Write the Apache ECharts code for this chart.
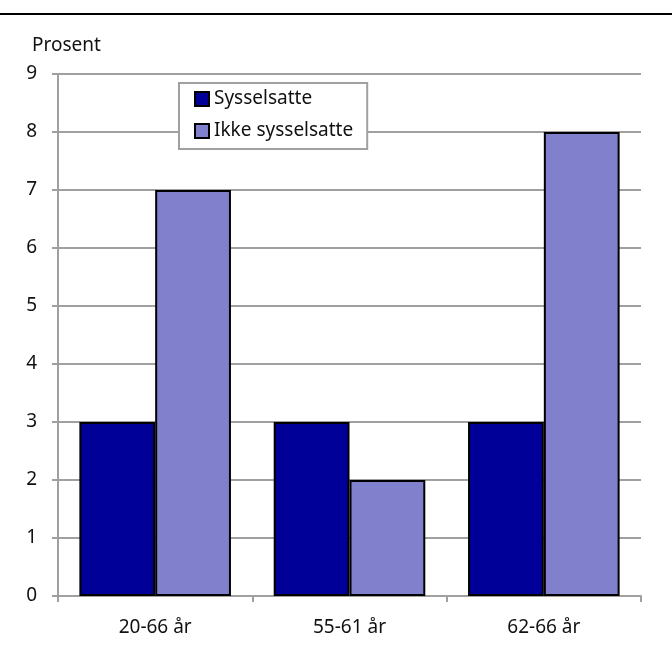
<!DOCTYPE html>
<html><head><meta charset="utf-8">
<script src="https://cdn.jsdelivr.net/npm/echarts@6/dist/echarts.min.js"></script>
<style>html,body{margin:0;padding:0;background:#fff}#c{width:672px;height:653px}</style>
</head><body><div id="c"></div>
<script>
const categories = ['20-66 år', '55-61 år', '62-66 år'];
const sysselsatte = [3, 3, 3];
const ikkeSysselsatte = [7, 2, 8];
const seriesNames = ['Sysselsatte', 'Ikke sysselsatte'];
const yTicks = [0, 1, 2, 3, 4, 5, 6, 7, 8, 9];

const font = 'Noto Sans';
const fs = 19;
const chart = echarts.init(document.getElementById('c'));
chart.setOption({
  animation: false,
  textStyle: { fontFamily: font },
  graphic: [
    { type: 'line', shape: { x1: 0, y1: 14, x2: 672, y2: 14 }, style: { stroke: '#000', lineWidth: 2 } },
    { type: 'text', left: 32, top: 36, style: { text: 'Prosent', font: fs + 'px "Noto Sans"', fill: '#111' } }
  ],
  legend: {
    orient: 'vertical', left: 179, top: 83,
    data: seriesNames,
    backgroundColor: '#fff', borderColor: '#a0a0a0', borderWidth: 2,
    padding: [6, 14, 8, 15], itemGap: 12,
    itemWidth: 14, itemHeight: 14,
    textStyle: { fontSize: fs, color: '#111', fontFamily: font, lineHeight: 20 },
    icon: 'rect'
  },
  grid: { left: 58, right: 31, top: 74, bottom: 57, containLabel: false },
  xAxis: {
    type: 'category', data: categories, boundaryGap: true,
    axisLine: { lineStyle: { color: '#a0a0a0', width: 2 } },
    axisTick: { show: true, alignWithLabel: false, length: 6, lineStyle: { color: '#a0a0a0', width: 2 } },
    axisLabel: { fontSize: fs, color: '#111', margin: 22, fontFamily: font }
  },
  yAxis: {
    type: 'value', min: yTicks[0], max: yTicks[yTicks.length - 1], interval: 1,
    axisLine: { show: true, lineStyle: { color: '#a0a0a0', width: 2 } },
    axisTick: { show: true, length: 6, lineStyle: { color: '#a0a0a0', width: 2 } },
    axisLabel: { fontSize: fs, color: '#111', margin: 21, fontFamily: font },
    splitLine: { show: true, lineStyle: { color: '#a0a0a0', width: 2 } }
  },
  series: [
    { name: seriesNames[0], type: 'bar', data: sysselsatte, barGap: '0%', barCategoryGap: '22%',
      itemStyle: { color: '#000099', borderColor: '#000', borderWidth: 2 } },
    { name: seriesNames[1], type: 'bar', data: ikkeSysselsatte, barGap: '0%', barCategoryGap: '22%',
      itemStyle: { color: '#8080CC', borderColor: '#000', borderWidth: 2 } }
  ]
});
</script></body></html>
